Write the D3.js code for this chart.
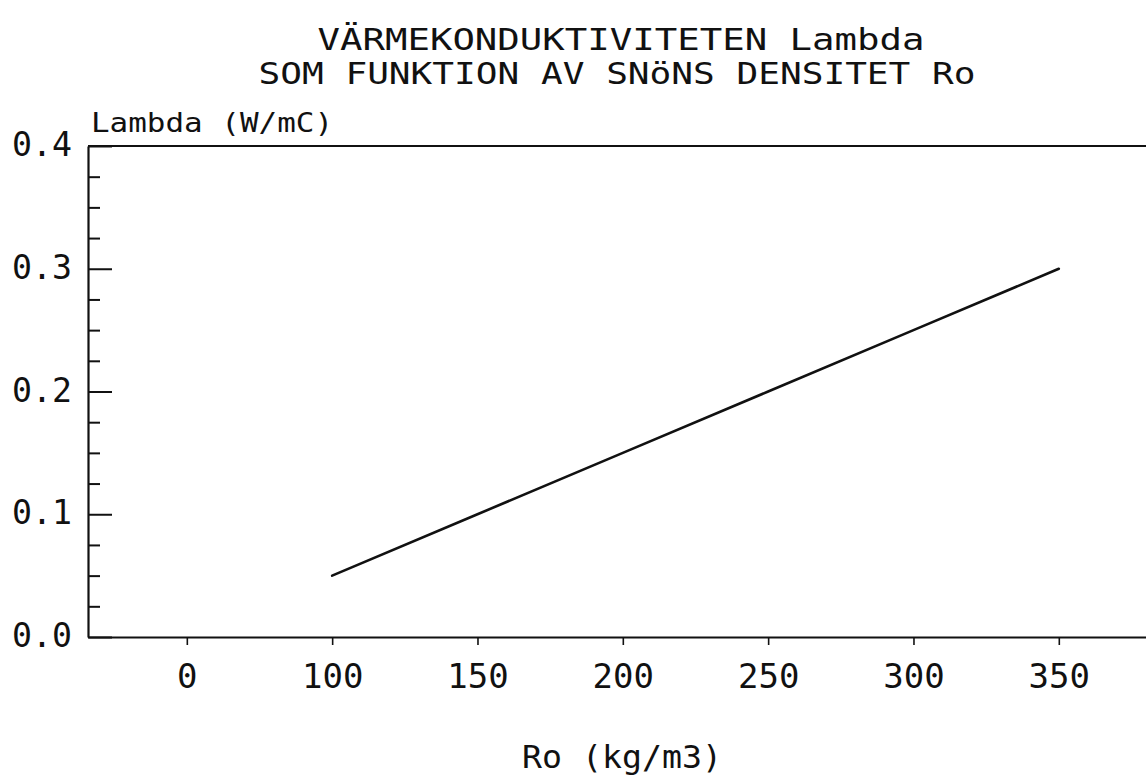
<!DOCTYPE html>
<html>
<head>
<meta charset="utf-8">
<script src="https://cdn.jsdelivr.net/npm/d3@7"></script>
<style>
  html, body { margin: 0; padding: 0; background: #fff; }
  svg { display: block; }
  text { font-family: "DejaVu Sans Mono", monospace; fill: #111; }
</style>
</head>
<body>
<svg id="chart" width="1146" height="779"></svg>
<script>
// Snow thermal conductivity against snow density
const roValues = [100, 150, 200, 250, 300, 350];
const lambdaValues = [0.05, 0.10, 0.15, 0.20, 0.25, 0.30];

const xTickValues = [50, 100, 150, 200, 250, 300, 350];
const xTickLabels = ["0", "100", "150", "200", "250", "300", "350"];
const yTickValues = [0.0, 0.1, 0.2, 0.3, 0.4];

const titleLines = ["VÄRMEKONDUKTIVITETEN Lambda", "SOM FUNKTION AV SNöNS DENSITET Ro"];
const yAxisTitle = "Lambda (W/mC)";
const xAxisTitle = "Ro (kg/m3)";

const svg = d3.select("#chart");
const ink = "#111";

const plot = { left: 88, right: 1146, top: 146, bottom: 637 };

const x = d3.scaleLinear().domain([16, 380]).range([plot.left, plot.right]);
const y = d3.scaleLinear().domain([0, 0.4]).range([plot.bottom, plot.top]);

// Frame: top edge (left and bottom edges come from the axes)
svg.append("line")
  .attr("x1", x.range()[0]).attr("x2", x.range()[1])
  .attr("y1", y(0.4)).attr("y2", y(0.4))
  .attr("stroke", ink).attr("stroke-width", 2.2);

// Minor ticks on the value axis, every 0.025
const yMinor = d3.range(0, 0.4001, 0.025).filter(v => Math.abs(v * 10 - Math.round(v * 10)) > 1e-6);
svg.append("g")
  .attr("transform", `translate(${plot.left},0)`)
  .call(d3.axisLeft(y).tickValues(yMinor).tickSizeInner(-12).tickSizeOuter(0).tickFormat(""))
  .call(g => g.select(".domain").remove())
  .call(g => g.selectAll("line").attr("stroke", ink).attr("stroke-width", 2));

// Major ticks and labels on the value axis
svg.append("g")
  .attr("transform", `translate(${plot.left},0)`)
  .call(d3.axisLeft(y).tickValues(yTickValues).tickSizeInner(-24).tickSizeOuter(0)
    .tickPadding(16).tickFormat(d3.format(".1f")))
  .call(g => g.select(".domain").attr("stroke", ink).attr("stroke-width", 2.2))
  .call(g => g.selectAll("line").attr("stroke", ink).attr("stroke-width", 2))
  .call(g => g.selectAll("text")
    .attr("font-family", "DejaVu Sans Mono, monospace")
    .attr("font-size", 34).attr("fill", ink).attr("dy", "0.28em")
    .attr("textLength", 60).attr("lengthAdjust", "spacingAndGlyphs"));

// Density axis
svg.append("g")
  .attr("transform", `translate(0,${plot.bottom})`)
  .call(d3.axisBottom(x).tickValues(xTickValues).tickSizeInner(8).tickSizeOuter(0)
    .tickPadding(19).tickFormat((d, i) => xTickLabels[i]))
  .call(g => g.select(".domain").attr("stroke", ink).attr("stroke-width", 2.2))
  .call(g => g.selectAll("line").attr("stroke", ink).attr("stroke-width", 1.6))
  .call(g => g.selectAll("text")
    .attr("font-family", "DejaVu Sans Mono, monospace")
    .attr("font-size", 34).attr("fill", ink));

// Conductivity curve
const line = d3.line().x((d, i) => x(roValues[i])).y(d => y(d));
svg.append("path")
  .datum(lambdaValues)
  .attr("d", line)
  .attr("fill", "none")
  .attr("stroke", ink)
  .attr("stroke-width", 2.6)
  .attr("stroke-linecap", "round");

// Titles
svg.append("text")
  .attr("x", 621).attr("y", 50)
  .attr("text-anchor", "middle")
  .attr("font-size", 30)
  .attr("textLength", 607).attr("lengthAdjust", "spacingAndGlyphs")
  .text(titleLines[0]);
svg.append("text")
  .attr("x", 617).attr("y", 84)
  .attr("text-anchor", "middle")
  .attr("font-size", 30)
  .attr("textLength", 717).attr("lengthAdjust", "spacingAndGlyphs")
  .text(titleLines[1]);

svg.append("text")
  .attr("x", 91).attr("y", 132)
  .attr("font-size", 27)
  .attr("textLength", 242).attr("lengthAdjust", "spacingAndGlyphs")
  .text(yAxisTitle);

svg.append("text")
  .attr("x", 622).attr("y", 768)
  .attr("text-anchor", "middle")
  .attr("font-size", 32)
  .attr("textLength", 200).attr("lengthAdjust", "spacingAndGlyphs")
  .text(xAxisTitle);
</script>
</body>
</html>
